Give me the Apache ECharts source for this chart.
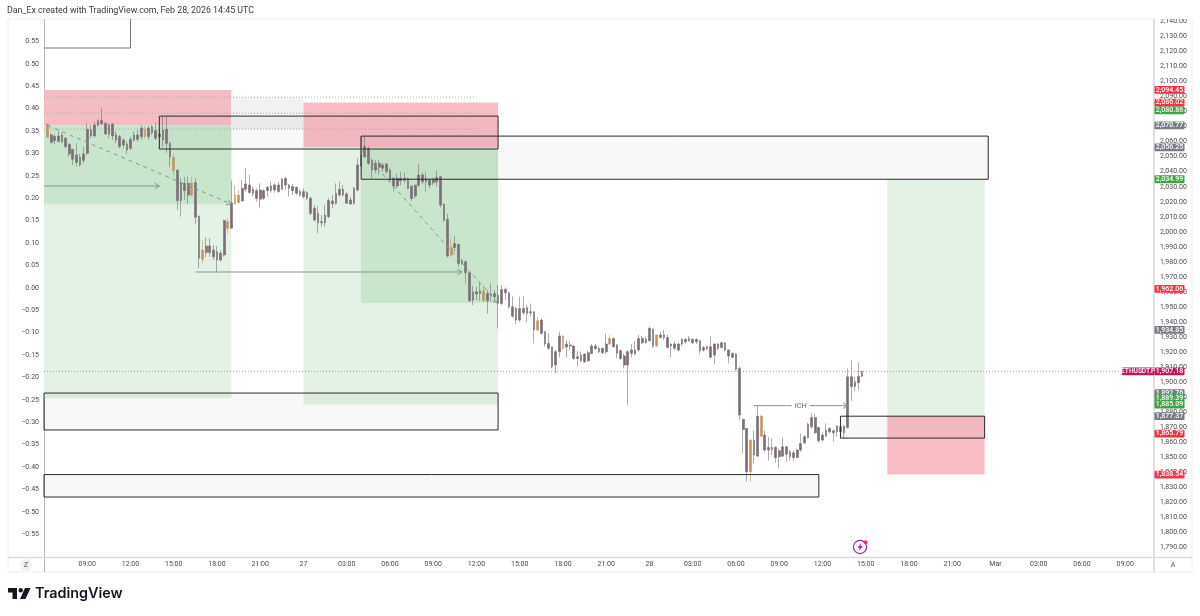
<!DOCTYPE html>
<html><head><meta charset="utf-8">
<style>html,body{margin:0;padding:0;background:#fff}#c{width:1200px;height:616px}</style>
<script src="https://cdn.jsdelivr.net/npm/echarts@6/dist/echarts.min.js"></script>
</head><body><div id="c"></div>
<script>
// ---- 15-minute ETHUSDT.P candles, [open, close, low, high]; first one at slot 1 (26 Feb 06:15)
const candlesA = [
[2071.8,2062.9,2062.3,2072.2],[2064.5,2059.4,2058.9,2065.6],[2060.7,2063.4,2058.5,2065.1],[2060.3,2063.8,2059.4,2067.4],[2064.5,2060.0,2058.9,2066.0],[2062.3,2056.7,2055.6,2062.9],[2058.3,2051.8,2050.0,2058.9],[2054.9,2048.3,2044.5,2054.9],[2051.2,2046.3,2043.4,2058.9],[2049.6,2044.5,2043.4,2051.8],
[2047.4,2051.8,2045.6,2056.7],[2052.3,2068.2,2051.2,2072.2],[2063.8,2067.8,2062.3,2071.1],[2063.8,2071.1,2062.9,2073.3],[2070.9,2074.0,2070.0,2074.9],[2074.0,2071.8,2071.8,2082.2],[2072.2,2065.1,2064.5,2072.7],[2065.0,2071.1,2062.3,2072.2],[2071.8,2063.8,2061.1,2072.2],[2064.5,2061.1,2058.9,2066.7],
[2063.4,2056.7,2055.6,2064.5],[2057.8,2061.1,2055.6,2062.3],[2058.3,2054.5,2051.8,2060.0],[2055.6,2061.6,2054.5,2063.4],[2061.1,2064.5,2060.0,2066.7],[2064.5,2061.6,2060.0,2067.8],[2063.4,2068.9,2061.1,2071.1],[2068.2,2063.4,2062.3,2070.0],[2063.4,2068.9,2061.1,2070.5],[2066.0,2070.0,2064.5,2071.1],
[2067.4,2062.3,2061.1,2072.7],[2063.4,2065.1,2055.6,2067.8],[2061.1,2067.8,2056.7,2076.7],[2068.2,2058.9,2052.3,2076.7],[2058.9,2049.6,2043.4,2060.0],[2049.6,2040.7,2036.7,2052.3],[2041.2,2020.8,2014.6,2041.2],[2020.8,2032.7,2010.1,2035.6],[2032.3,2027.4,2021.2,2036.7],[2032.3,2024.5,2018.6,2036.7],
[2032.3,2024.5,2023.4,2036.7],[2032.7,2009.7,2005.3,2035.6],[2010.6,1982.4,1975.7,2010.6],[1981.7,1987.9,1979.1,1994.6],[1986.2,1990.6,1983.1,1996.4],[1990.6,1986.2,1983.5,1995.7],[1987.9,1983.5,1981.3,1991.3],[1986.8,1981.3,1972.9,1990.6],[1981.3,1985.7,1980.2,1987.9],[1984.6,2007.5,1983.5,2008.3],
[2006.8,2002.4,1999.0,2009.0],[2002.4,2019.4,2002.4,2034.1],[2018.6,2024.5,2017.9,2031.2],[2019.4,2024.5,2019.0,2027.9],[2020.6,2029.0,2020.1,2034.5],[2028.3,2031.9,2026.8,2042.3],[2031.2,2026.1,2025.7,2037.9],[2028.3,2025.7,2023.4,2030.1],[2027.4,2022.3,2020.1,2029.0],[2021.7,2027.9,2016.3,2032.3],
[2022.3,2027.4,2021.2,2028.3],[2027.4,2029.6,2023.4,2030.5],[2030.5,2027.4,2026.1,2033.4],[2027.9,2031.2,2026.1,2032.3],[2031.2,2026.8,2026.1,2033.4],[2028.3,2035.2,2027.9,2036.1],[2035.6,2031.2,2027.9,2036.7],[2031.2,2029.0,2023.4,2031.9],[2027.4,2030.1,2024.5,2031.9],[2029.6,2025.7,2024.5,2030.1],
[2026.8,2024.5,2023.4,2028.3],[2023.4,2026.8,2022.3,2029.0],[2026.1,2022.3,2021.2,2026.8],[2022.3,2012.3,2011.2,2023.4],[2015.7,2007.9,2006.8,2017.9],[2012.3,2006.1,1999.0,2016.8]
];
const candlesB = [
[2006.8,2006.1,2003.5,2011.2],[2006.1,2011.2,2003.5,2017.9],[2010.1,2020.8,2009.0,2022.3],[2020.6,2018.6,2015.7,2024.5],[2019.0,2025.7,2017.9,2032.3],[2024.5,2028.3,2023.4,2033.4],[2028.3,2024.5,2023.4,2031.2],[2025.2,2019.0,2019.0,2026.8],[2021.2,2018.6,2017.9,2023.4],[2019.0,2029.0,2017.9,2030.1],
[2027.9,2044.5,2026.8,2049.0],[2043.8,2051.2,2043.4,2063.4],[2050.0,2056.7,2048.9,2063.4],[2055.6,2045.6,2044.5,2056.7],[2047.8,2041.2,2035.6,2048.9],[2041.2,2045.6,2039.0,2047.8],[2045.6,2043.0,2037.9,2047.8],[2044.5,2042.3,2040.1,2046.1],[2045.2,2040.1,2039.0,2045.6],[2041.2,2034.5,2033.4,2042.3],
[2035.6,2030.5,2026.8,2036.7],[2030.5,2035.6,2028.9,2038.5],[2035.5,2034.0,2031.1,2040.0],[2034.4,2035.5,2032.2,2039.3],[2035.3,2028.9,2028.2,2036.2],[2030.4,2022.2,2020.7,2031.1],[2023.8,2031.1,2022.2,2031.1],[2031.1,2037.8,2029.6,2045.1],[2037.8,2033.3,2031.8,2039.3],[2033.3,2035.5,2026.7,2040.0],
[2034.4,2031.1,2028.9,2035.5],[2032.7,2034.9,2031.1,2036.2],[2033.3,2036.2,2030.0,2040.6],[2036.7,2017.8,2016.2,2037.1],[2018.5,2007.8,2006.7,2018.5],[2008.3,1983.9,1983.0,2011.8],[1984.5,1989.6,1983.4,1995.6],[1989.6,1992.3,1986.7,1997.2],[1991.8,1979.0,1976.8,1991.8],[1979.0,1980.8,1977.9,1982.3],
[1980.1,1972.8,1965.7,1980.8],[1972.8,1954.1,1953.5,1973.4],[1954.6,1960.1,1951.3,1963.9],[1960.1,1958.6,1954.6,1963.5],[1958.9,1960.8,1954.1,1966.8],[1960.6,1954.1,1953.5,1964.6],[1954.1,1959.0,1945.7,1961.2],[1958.6,1957.7,1953.5,1965.7],[1959.0,1956.8,1953.5,1961.2],[1957.9,1952.4,1935.7,1964.6],
[1952.4,1961.7,1951.3,1964.6],[1961.7,1959.5,1954.6,1963.0],[1959.5,1950.1,1949.0,1960.1],[1950.1,1943.9,1943.0,1957.2],[1949.0,1941.3,1938.6,1950.1],[1941.3,1949.0,1940.2,1956.8],[1949.0,1946.2,1944.6,1957.2],[1945.7,1949.7,1940.2,1951.3],[1946.9,1946.2,1943.5,1952.4],[1946.9,1934.7,1925.8,1946.9],
[1934.7,1940.9,1933.6,1943.5],[1941.3,1932.5,1931.4,1942.4],[1933.6,1925.4,1923.6,1934.2],[1925.8,1922.5,1921.4,1932.5],[1923.6,1910.3,1909.2,1923.6],[1911.4,1920.3,1905.8,1921.4],[1920.3,1930.7,1916.5,1933.6],[1930.7,1922.5,1921.8,1931.4],[1923.4,1925.4,1916.5,1928.0],[1924.7,1924.0,1921.4,1927.6],
[1924.0,1915.8,1914.7,1924.7],[1915.8,1916.9,1910.3,1920.9],[1918.0,1914.3,1913.6,1920.3],[1913.6,1918.7,1912.9,1919.2],[1914.3,1919.6,1913.6,1920.9]
];
const candlesC = [
[1919.1,1924.0,1918.7,1925.4],[1924.0,1922.3,1921.4,1925.4],[1922.5,1920.3,1919.2,1923.6],[1919.6,1922.5,1918.7,1923.1],[1920.3,1925.4,1918.7,1932.5],[1925.4,1929.1,1924.7,1931.4],[1929.1,1923.6,1923.1,1929.8],[1924.7,1919.2,1915.8,1925.4],[1920.9,1915.8,1914.7,1921.8],[1917.4,1911.4,1909.2,1919.2],
[1911.4,1920.3,1884.8,1921.4],[1919.2,1921.4,1916.5,1925.4],[1918.7,1921.4,1918.0,1927.6],[1921.4,1929.1,1920.3,1931.4],[1929.1,1926.2,1925.4,1930.7],[1926.2,1928.5,1925.8,1930.2],[1927.6,1935.8,1926.9,1936.9],[1935.1,1924.0,1922.5,1935.8],[1924.0,1931.4,1923.6,1931.8],[1931.4,1929.8,1929.1,1933.6],
[1929.8,1931.4,1928.0,1934.7],[1929.8,1923.1,1922.5,1931.4],[1924.0,1925.4,1916.5,1925.8],[1922.5,1925.4,1921.4,1927.6],[1925.4,1921.4,1920.3,1926.2],[1925.4,1928.5,1924.0,1929.1],[1928.5,1926.9,1925.4,1929.1],[1927.6,1929.1,1926.9,1930.7],[1928.5,1926.2,1925.4,1929.1],[1926.9,1928.5,1925.4,1929.1],
[1927.6,1920.9,1918.7,1928.0],[1921.4,1923.1,1920.3,1924.0],[1923.6,1922.3,1921.4,1924.0],[1923.6,1916.5,1915.8,1930.7],[1918.0,1925.4,1912.1,1925.8],[1922.5,1925.4,1921.4,1926.2],[1923.1,1926.2,1922.5,1926.9],[1926.2,1921.4,1920.5,1926.7],[1921.4,1917.4,1912.5,1921.8],[1919.2,1916.5,1915.8,1919.6],
[1918.7,1908.5,1907.6,1919.2],[1909.1,1878.1,1874.8,1910.3],[1875.2,1868.6,1852.6,1875.9],[1869.2,1840.4,1833.7,1869.2],[1840.4,1861.5,1833.7,1861.9],[1861.5,1851.5,1845.9,1867.7],[1850.8,1877.4,1850.4,1884.7],[1877.4,1864.1,1863.7,1878.1],[1864.8,1854.8,1853.7,1867.7],[1854.8,1856.6,1847.7,1863.7],
[1856.6,1855.2,1851.5,1862.6],[1856.6,1849.9,1846.4,1857.5],[1850.4,1854.4,1842.6,1855.9],[1850.8,1857.0,1850.4,1863.2],[1857.0,1852.1,1847.0,1857.5],[1853.7,1850.4,1847.7,1854.8],[1849.9,1853.0,1847.7,1854.8],[1849.9,1854.8,1849.3,1855.9],[1854.8,1859.2,1853.7,1865.9],[1859.7,1863.7,1858.8,1864.8],
[1863.2,1872.1,1862.6,1873.0],[1870.3,1876.5,1869.2,1879.6],[1876.5,1866.3,1865.5,1878.8],[1869.9,1861.0,1859.7,1870.3],[1861.5,1864.8,1860.4,1867.0],[1864.1,1868.1,1863.7,1872.6],[1869.2,1867.0,1865.9,1869.9],[1866.3,1867.7,1860.4,1868.6],[1867.0,1870.8,1863.7,1871.4],[1870.3,1867.0,1865.9,1870.8],
[1866.3,1870.8,1862.6,1871.4],[1869.9,1903.6,1869.2,1909.1],[1903.6,1897.0,1887.6,1914.7],[1897.0,1900.3,1893.6,1903.6],[1899.6,1904.0,1894.7,1912.9],[1904.0,1907.18,1903.2,1907.8]
];
const candles = candlesA.concat(candlesB, candlesC);
const orangeBars = [0,27,35,40,43,50,52,53,112,121,136,143,156,169,195,198];

// ---- axes
const slotCount = 309;                       // 15-min slots visible on the time scale
const leftTicks  = { min:-0.6, max:0.6, interval:0.05 };
const rightRange = { min:1783.9, max:2141.6 };
const rightTicks = [1790,1800,1810,1820,1830,1840,1850,1860,1870,1880,1890,1900,1910,1920,1930,1940,1950,1960,1970,1980,1990,2000,2010,2020,2030,2040,2050,2060,2070,2080,2090,2100,2110,2120,2130,2140];

// ---- position zones: [slot start, slot end, price top, price bottom, fill]
const RED='#f4bcc3', RED2='#f8bcc5', GREEN='#c9e6cc', PALE='#e3f2e5', GREY='#f1f1f1';
const zones = [
 [0,52,2094.45,2070.77,RED],[0,52,2070.77,2018.0,GREEN],[0,52,2018.0,1889.39,PALE],
 [52,72,2089.7,2068.4,GREY],
 [72,126,2086.02,2056.25,RED2],[72,126,2056.25,1885.09,PALE],[88,126,2056.25,1952.6,GREEN],
 [234,261,2034.99,1877.37,PALE],[234,261,1877.37,1838.54,RED2]
];
// black-outlined boxes: [slot start, slot end, price top, price bottom]
const boxes = [
 [32,126,2077.0,2055.1],[88,262,2063.7,2034.99],[0,126,1892.76,1868.2],[0,215,1838.54,1823.6],[221,261,1877.37,1862.8]
];
const openBox = [0,24,2122.3];               // top-left box, cut off by the pane top
// dotted level lines: [slot start, slot end, price]
const dotted = [[0,120,2089.7],[0,120,2079.0],[0,120,2068.4]];
const lastPrice = 1907.18;
// arrows: [slot start, price, slot end, price, dashed?]
const arrows = [
 [1,2070.77,52,2018.5,true],[88,2054.4,126,1952.6,true],
 [0,2030.5,32,2030.5,false],[42,1973.3,116,1973.3,false],[197,1884.4,223,1884.4,false]
];
const chochLabel = {slot:210, price:1884.4, text:'ICH'};
// price tags on the right scale: [price, text, colour]
const TAGRED='#f23645', TAGGRN='#43a047', TAGGRY='#787b86';
const tags = [
 [2094.45,'2,094.45',TAGRED],[2086.02,'2,086.02',TAGRED],[2080.86,'2,080.86',TAGGRN],[2070.77,'2,070.77',TAGGRY],[2056.25,'2,056.25',TAGGRY],[2034.99,'2,034.99',TAGGRN],
 [1962.06,'1,962.06',TAGRED],[1934.85,'1,934.85',TAGGRY],[1892.76,'1,892.76',TAGGRY],[1889.39,'1,889.39',TAGGRN],[1885.09,'1,885.09',TAGGRN],[1877.37,'1,877.37',TAGGRY],[1865.79,'1,865.79',TAGRED],[1838.54,'1,838.54',TAGRED],[1907.18,'1,907.18','#c2185b']
];
const symbolTag = 'ETHUSDT.P';

// category labels for the 15-min slots, from 26 Feb 2026 06:00 UTC
const pad=n=>String(n).padStart(2,'0');
const slots=[]; for(let i=0;i<slotCount;i++){const d=new Date(Date.UTC(2026,1,26,6,15*i));slots.push({h:d.getUTCHours(),m:d.getUTCMinutes(),D:d.getUTCDate(),M:d.getUTCMonth()});}
const categories=slots.map(s=>s.h===0&&s.m===0?(s.D===1?'Mar':String(s.D)):pad(s.h)+':'+pad(s.m));

const chart=echarts.init(document.getElementById('c'),null,{renderer:'canvas'});
const FONT='Roboto,"Noto Sans",sans-serif', TEXT='#4a4a4a';

function seriesOfShapes(z,list,draw){
  return {type:'custom',coordinateSystem:'cartesian2d',xAxisIndex:0,yAxisIndex:0,z,clip:false,silent:true,animation:false,
    encode:{x:0,y:1},data:list.map((_,i)=>[0,rightRange.min,i]),
    renderItem:(p,api)=>draw(list[api.value(2)],api)};
}
const rectOf=(x0,x1,top,bot,api)=>{const a=api.coord([x0,top]),b=api.coord([x1,bot]);return {x:a[0],y:a[1],width:b[0]-a[0],height:b[1]-a[1]};};
function head(a,b,size){ // open arrow head
  const t=Math.atan2(b[1]-a[1],b[0]-a[0]),s=size,u=0.55;
  return [[b[0]-s*Math.cos(t-u),b[1]-s*Math.sin(t-u)],b,[b[0]-s*Math.cos(t+u),b[1]-s*Math.sin(t+u)]];
}
const option={
  animation:false,backgroundColor:'#fff',
  grid:{left:44,right:46,top:19,height:537.7,containLabel:false},
  xAxis:{type:'category',data:categories,boundaryGap:false,position:'bottom',
    axisLine:{show:false},axisTick:{show:false},splitLine:{show:false},
    axisLabel:{margin:4,fontSize:7,color:TEXT,fontFamily:FONT,
      interval:(i)=>i>0&&i%12===0,formatter:v=>v}},
  yAxis:[
    {type:'value',position:'right',scale:true,min:rightRange.min,max:rightRange.max,
     axisLine:{show:false},axisTick:{show:false},splitLine:{show:false},
     axisLabel:{customValues:rightTicks,margin:6,fontSize:7,color:TEXT,fontFamily:FONT,
       formatter:v=>v.toLocaleString('en-US',{minimumFractionDigits:2,maximumFractionDigits:2})}},
    {type:'value',position:'left',min:leftTicks.min,max:leftTicks.max,interval:leftTicks.interval,
     axisLine:{show:false},axisTick:{show:false},splitLine:{show:false},
     axisLabel:{margin:5,fontSize:7,color:TEXT,fontFamily:FONT,showMinLabel:false,showMaxLabel:false,
       formatter:v=>{const n=Math.round(v*100)/100;return (n<0?'\u2212':'')+Math.abs(n).toFixed(2);}}}
  ],
  series:[
    seriesOfShapes(1,zones,(z,api)=>({type:'rect',shape:rectOf(z[0],z[1],z[2],z[3],api),style:{fill:z[4]}})),
    seriesOfShapes(1.5,dotted,(d,api)=>{const a=api.coord([d[0],d[2]]),b=api.coord([d[1],d[2]]);
      return {type:'line',shape:{x1:a[0],y1:a[1],x2:b[0],y2:b[1]},style:{stroke:'#a9a9a9',lineWidth:1,lineDash:[1,2]}};}),
    {type:'candlestick',xAxisIndex:0,yAxisIndex:0,z:2,barWidth:2.2,animation:false,silent:true,
     encode:{x:0,y:[1,2,3,4]},
     data:candles.map((c,i)=>{const orange=orangeBars.includes(i);
       const col=orange?'#c99058':'#836a7b',bor=orange?'#bd9468':'#6c666b';
       return {value:[i+1,c[0],c[1],c[2],c[3]],itemStyle:{color:col,color0:col,borderColor:bor,borderColor0:bor,borderWidth:0.55}};})},
    seriesOfShapes(3,boxes,(b,api)=>({type:'rect',shape:rectOf(b[0],b[1],b[2],b[3],api),style:{fill:'rgba(120,120,120,0.05)',stroke:'#2b2b2b',lineWidth:1}})),
    seriesOfShapes(3,[openBox],(b,api)=>{const a=api.coord([b[0],b[2]]),c=api.coord([b[1],b[2]]),top=api.coord([b[1],rightRange.max]);
      return {type:'polyline',shape:{points:[a,c,top]},style:{stroke:'#777',lineWidth:1,fill:null}};}),
    seriesOfShapes(3,[lastPrice],(v,api)=>{const a=api.coord([0,v]),b=api.coord([slotCount-1,v]);
      return {type:'line',shape:{x1:a[0],y1:a[1],x2:b[0],y2:b[1]},style:{stroke:'#c48aa2',lineWidth:1,lineDash:[1,2]}};}),
    seriesOfShapes(4,arrows,(r,api)=>{const a=api.coord([r[0],r[1]]),b=api.coord([r[2],r[3]]);const col=r[4]?'#7f9a88':'#86958c';
      return {type:'group',children:[
        {type:'line',shape:{x1:a[0],y1:a[1],x2:b[0],y2:b[1]},style:{stroke:col,lineWidth:1,lineDash:r[4]?[4,4]:null}},
        {type:'polyline',shape:{points:head(a,b,5.5)},style:{stroke:col,lineWidth:1,fill:null}}]};}),
    seriesOfShapes(4,[chochLabel],(l,api)=>{const a=api.coord([l.slot,l.price]);
      return {type:'text',style:{x:a[0],y:a[1],text:l.text,align:'center',verticalAlign:'middle',fontSize:7.5,fill:'#666',fontFamily:FONT,backgroundColor:'#fff',padding:[1,3]}};}),
    seriesOfShapes(6,tags,(t,api)=>{const y=api.coord([0,t[0]])[1];
      return {type:'group',children:[
        {type:'rect',shape:{x:1154.5,y:y-3.9,width:30,height:7.8,r:1},style:{fill:t[2]}},
        {type:'text',style:{x:1169.5,y:y,text:t[1],align:'center',verticalAlign:'middle',fontSize:7,fontWeight:500,fill:'#fff',fontFamily:FONT}}]};}),
    seriesOfShapes(6,[lastPrice],(v,api)=>{const y=api.coord([0,v])[1];
      return {type:'group',children:[
        {type:'rect',shape:{x:1122,y:y-3.9,width:32.5,height:7.8,r:1},style:{fill:'#c2185b'}},
        {type:'text',style:{x:1138.2,y:y,text:symbolTag,align:'center',verticalAlign:'middle',fontSize:6.6,fontWeight:500,fill:'#fff',fontFamily:FONT}}]};})
  ],
  graphic:{elements:[
    {type:'text',silent:true,style:{x:7,y:11,text:'Dan_Ex created with TradingView.com, Feb 28, 2026 14:45 UTC',fontSize:8.85,fill:'#3a3a3a',fontFamily:FONT,verticalAlign:'middle'}},
    {type:'rect',z:-1,shape:{x:8,y:19,width:1184,height:553},style:{fill:'none',stroke:'#eeeeee',lineWidth:1}},
    {type:'line',z:0,shape:{x1:44.5,y1:19,x2:44.5,y2:572},style:{stroke:'#b9b9b9',lineWidth:1}},
    {type:'line',z:0,shape:{x1:1154,y1:19,x2:1154,y2:572},style:{stroke:'#c2c2c2',lineWidth:1}},
    {type:'line',z:0,shape:{x1:8,y1:557.5,x2:1192,y2:557.5},style:{stroke:'#dcdcdc',lineWidth:1.4}},
    {type:'rect',z:9,shape:{x:1156,y:12,width:36,height:7},style:{fill:'#fff'}},
    {type:'circle',shape:{cx:26,cy:565,r:6},style:{fill:'#f1f1f1'}},
    {type:'text',style:{x:26,y:565,text:'Z',align:'center',verticalAlign:'middle',fontSize:7.5,fill:'#555',fontFamily:FONT}},
    {type:'text',style:{x:1173,y:565,text:'A',align:'center',verticalAlign:'middle',fontSize:7.5,fill:'#555',fontFamily:FONT}},
    {type:'circle',shape:{cx:860,cy:547,r:6.6},style:{fill:'#fff',stroke:'#9c27b0',lineWidth:1.2}},
    {type:'polygon',shape:{points:[[861.5,542.5],[857.5,548],[859.8,548],[858.5,551.5],[863,546],[860.6,546]]},style:{fill:'#b0309c'}},
    {type:'circle',shape:{cx:865.5,cy:542.2,r:2},style:{fill:'#f23645'}},
    {type:'polygon',shape:{points:[[8,588],[17,588],[17,599],[12.5,599],[12.5,592.5],[8,592.5]]},style:{fill:'#131722'}},
    {type:'polygon',shape:{points:[[25,588],[30.5,588],[25.5,599],[20,599]]},style:{fill:'#131722'}},
    {type:'circle',shape:{cx:20.7,cy:590.3,r:2.2},style:{fill:'#131722'}},
    {type:'text',style:{x:35,y:594,text:'TradingView',fontSize:14.4,fontWeight:600,fill:'#131722',fontFamily:'Inter,Roboto,sans-serif',verticalAlign:'middle'}}
  ]}
};
chart.setOption(option);
</script></body></html>
